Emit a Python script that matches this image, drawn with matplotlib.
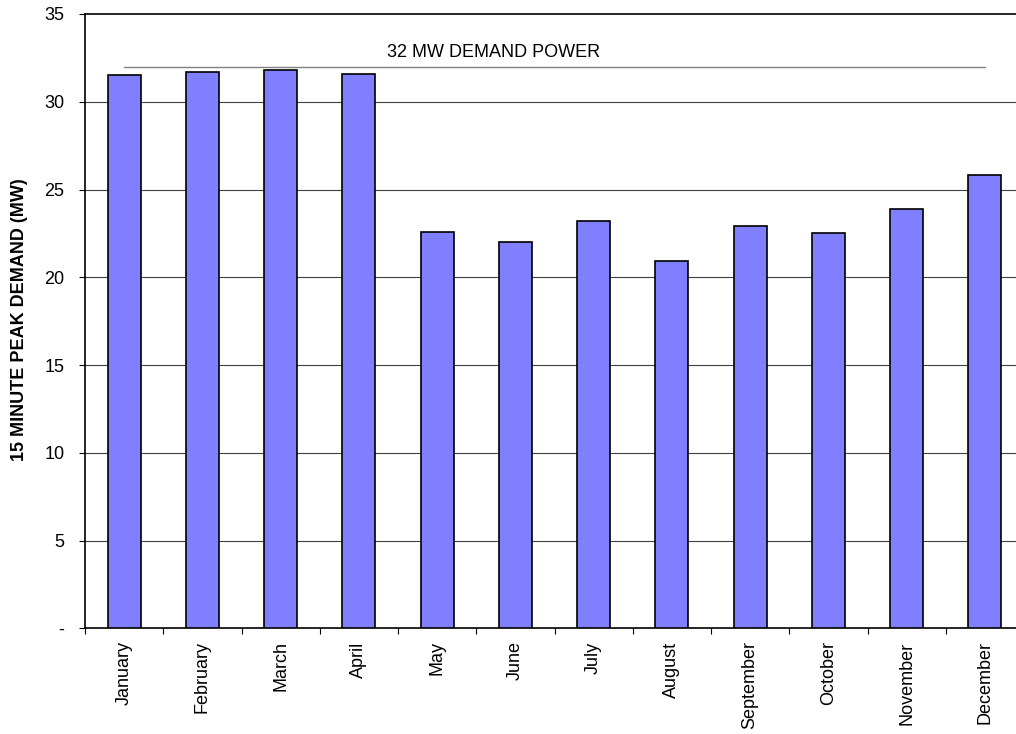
import numpy as np
import matplotlib
matplotlib.use("Agg")
import matplotlib.pyplot as plt
from matplotlib.ticker import FixedLocator, FuncFormatter


months = ["January", "February", "March", "April", "May", "June", "July",
          "August", "September", "October", "November", "December"]
peak_mw = [31.5, 31.7, 31.8, 31.6, 22.56, 22.0, 23.22, 20.9, 22.94, 22.5, 23.9, 25.85]
demand_limit = 32
limit_label = "32 MW DEMAND POWER"
y_label = "15 MINUTE PEAK DEMAND (MW)"

plt.rcParams["font.family"] = ["Liberation Sans", "DejaVu Sans"]

fig = plt.figure(figsize=(10.16, 7.34), dpi=100)
ax = fig.add_axes([85 / 1016, 105.7 / 734, 939 / 1016, 614.3 / 734])

x = np.arange(len(months))
ax.bar(x, peak_mw, width=0.42, color="#8080FF", edgecolor="black",
       linewidth=1.2, zorder=3)

# demand limit line + label
ax.plot([x[0], x[-1]], [demand_limit, demand_limit], color="#808080",
        linewidth=1.0, zorder=2)
ax.text(3.36, demand_limit + 0.8, limit_label, ha="left", va="center",
        fontsize=13)

ax.set_xlim(-0.5, len(months) - 0.5)
ax.set_ylim(0, 35)

ax.yaxis.set_major_locator(FixedLocator(np.arange(0, 36, 5)))
ax.yaxis.set_major_formatter(FuncFormatter(lambda v, p: "-" if v == 0 else f"{v:g}"))
for v in range(5, 35, 5):
    ax.axhline(v, color="#404040", linewidth=0.8, zorder=1)

ax.set_xticks(x)
ax.set_xticklabels(months, rotation=90)
ax.xaxis.set_minor_locator(FixedLocator(np.arange(-0.5, len(months), 1.0)))
ax.tick_params(axis="x", which="major", length=0, pad=9.5, labelsize=13)
ax.tick_params(axis="x", which="minor", length=4.5, width=0.8, direction="out")
ax.tick_params(axis="y", length=4.5, width=0.8, pad=10.4, labelsize=13)

for side in ["top", "left", "bottom"]:
    ax.spines[side].set_linewidth(1.2)
ax.spines["right"].set_visible(False)

fig.text(19.5 / 1016, 1 - 320 / 734, y_label, rotation=90, ha="center",
         va="center", fontsize=13, fontweight="bold")

fig.savefig("out.png", dpi=100)
